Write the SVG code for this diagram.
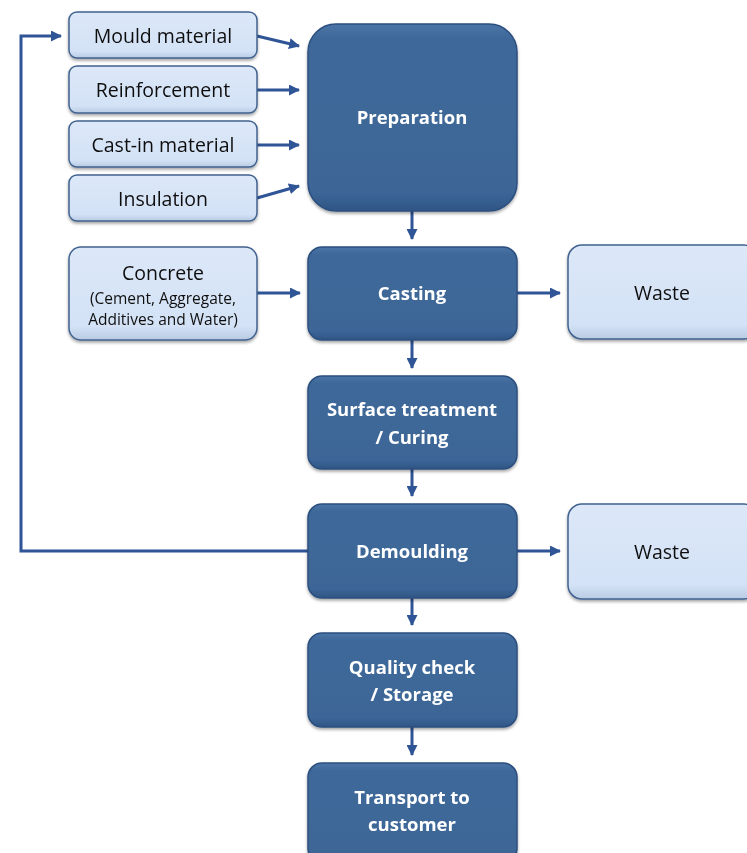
<svg xmlns="http://www.w3.org/2000/svg" width="747" height="853" viewBox="0 0 747 853">
<style>
.lt{fill:url(#gl);stroke:#41628f;stroke-width:1.5}
.dk{fill:url(#gd);stroke:#2c4f7f;stroke-width:1.5}
.t{font-family:"Open Sans","Liberation Sans",sans-serif;font-size:19.5px;fill:#111;text-anchor:middle}
.s{font-family:"Open Sans","Liberation Sans",sans-serif;font-size:15.5px;fill:#111;text-anchor:middle}
.w{font-family:"Open Sans","Liberation Sans",sans-serif;font-size:18.5px;font-weight:bold;fill:#fff;text-anchor:middle}
.c{fill:none;stroke:#2f5597;stroke-width:3}
</style>
<defs>
<linearGradient id="gl" x1="0" y1="0" x2="0" y2="1">
<stop offset="0" stop-color="#dce8f8"/><stop offset="0.85" stop-color="#d3e2f6"/><stop offset="1" stop-color="#b9cbe3"/>
</linearGradient>
<linearGradient id="gd" x1="0" y1="0" x2="0" y2="1">
<stop offset="0" stop-color="#4a75a6"/><stop offset="0.08" stop-color="#3e6899"/><stop offset="0.9" stop-color="#3c6697"/><stop offset="1" stop-color="#2f5584"/>
</linearGradient>
<filter id="sh" x="-10%" y="-10%" width="120%" height="130%">
<feDropShadow dx="0" dy="2" stdDeviation="1.5" flood-color="#000" flood-opacity="0.35"/>
</filter>
<marker id="ah" markerWidth="11" markerHeight="11" refX="10" refY="5.5" orient="auto" markerUnits="userSpaceOnUse">
<path d="M0,0 L11,5.5 L0,11 Z" fill="#2f5597"/>
</marker>
</defs>
<g id="connectors">
<path class="c" d="M257,36 L299,46" marker-end="url(#ah)"/>
<path class="c" d="M257,90 L299,90" marker-end="url(#ah)"/>
<path class="c" d="M257,145 L299,145" marker-end="url(#ah)"/>
<path class="c" d="M257,198 L299,186" marker-end="url(#ah)"/>
<path class="c" d="M412,211 L412,239" marker-end="url(#ah)"/>
<path class="c" d="M257,293 L300,293" marker-end="url(#ah)"/>
<path class="c" d="M517,293 L560,293" marker-end="url(#ah)"/>
<path class="c" d="M412,340 L412,368" marker-end="url(#ah)"/>
<path class="c" d="M412,469 L412,496" marker-end="url(#ah)"/>
<path class="c" d="M517,551 L560,551" marker-end="url(#ah)"/>
<path class="c" d="M412,598 L412,625" marker-end="url(#ah)"/>
<path class="c" d="M412,727 L412,755" marker-end="url(#ah)"/>
<path class="c" d="M308,551 L21,551 L21,36 L61,36" marker-end="url(#ah)"/>
</g>
<g id="mould" filter="url(#sh)"><rect class="lt" x="69" y="12" width="188" height="46" rx="8"/><text class="t" x="163" y="43">Mould material</text></g>
<g id="reinforcement" filter="url(#sh)"><rect class="lt" x="69" y="66" width="188" height="47" rx="8"/><text class="t" x="163" y="97">Reinforcement</text></g>
<g id="castin" filter="url(#sh)"><rect class="lt" x="69" y="121" width="188" height="46" rx="8"/><text class="t" x="163" y="152">Cast-in material</text></g>
<g id="insulation" filter="url(#sh)"><rect class="lt" x="69" y="175" width="188" height="46" rx="8"/><text class="t" x="163" y="206">Insulation</text></g>
<g id="preparation" filter="url(#sh)"><rect class="dk" x="308" y="24" width="209" height="187" rx="28"/><text class="w" x="412" y="124">Preparation</text></g>
<g id="concrete" filter="url(#sh)"><rect class="lt" x="69" y="247" width="188" height="93" rx="12"/><text class="t" x="163" y="280">Concrete</text><text class="s" x="163" y="304">(Cement, Aggregate,</text><text class="s" x="163" y="325">Additives and Water)</text></g>
<g id="casting" filter="url(#sh)"><rect class="dk" x="308" y="247" width="209" height="93" rx="14"/><text class="w" x="412" y="300">Casting</text></g>
<g id="waste1" filter="url(#sh)"><rect class="lt" x="568" y="245" width="190" height="94" rx="14"/><text class="t" x="662" y="300">Waste</text></g>
<g id="surface" filter="url(#sh)"><rect class="dk" x="308" y="376" width="209" height="93" rx="14"/><text class="w" x="412" y="416">Surface treatment</text><text class="w" x="412" y="444">/ Curing</text></g>
<g id="demoulding" filter="url(#sh)"><rect class="dk" x="308" y="504" width="209" height="94" rx="14"/><text class="w" x="412" y="558">Demoulding</text></g>
<g id="waste2" filter="url(#sh)"><rect class="lt" x="568" y="504" width="190" height="95" rx="14"/><text class="t" x="662" y="559">Waste</text></g>
<g id="quality" filter="url(#sh)"><rect class="dk" x="308" y="633" width="209" height="94" rx="14"/><text class="w" x="412" y="674">Quality check</text><text class="w" x="412" y="701">/ Storage</text></g>
<g id="transport" filter="url(#sh)"><rect class="dk" x="308" y="763" width="209" height="100" rx="14"/><text class="w" x="412" y="804">Transport to</text><text class="w" x="412" y="831">customer</text></g>
</svg>
